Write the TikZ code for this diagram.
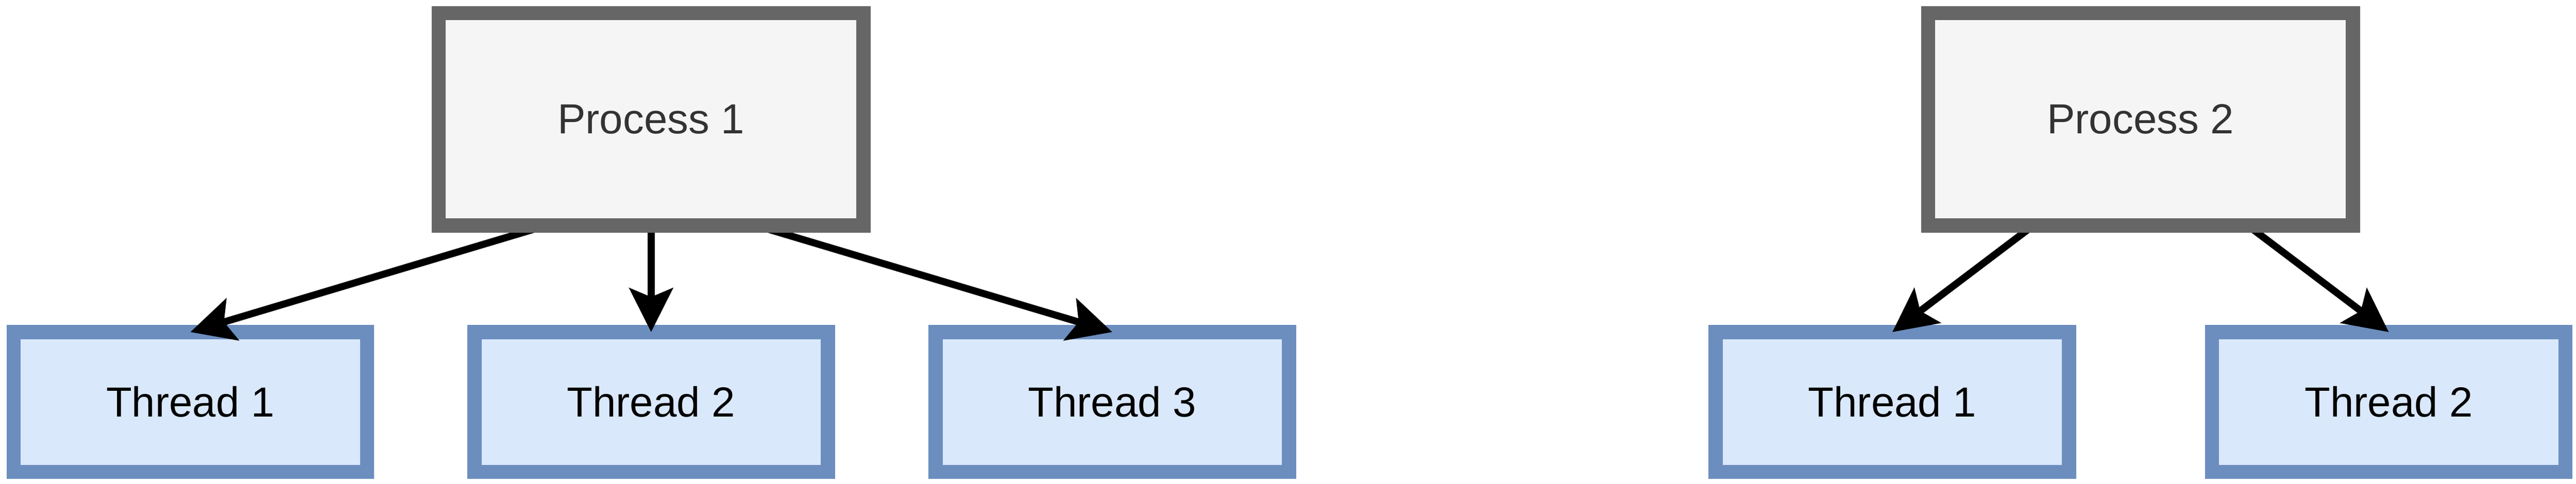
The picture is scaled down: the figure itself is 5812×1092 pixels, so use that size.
\documentclass[tikz,border=0pt]{standalone}
\usepackage{fontspec}
\setmainfont{Liberation Sans}
\usetikzlibrary{arrows.meta}
\definecolor{procfill}{HTML}{F5F5F5}
\definecolor{procdraw}{HTML}{666666}
\definecolor{proctext}{HTML}{333333}
\definecolor{thrfill}{HTML}{DAE8FC}
\definecolor{thrdraw}{HTML}{6C8EBF}
\pgfdeclarelayer{threadlayer}
\pgfdeclarelayer{edgelayer}
\pgfsetlayers{threadlayer,edgelayer,main}
\begin{document}
\begin{tikzpicture}[x=0.01cm,y=-0.01cm,
  procbox/.style={draw=procdraw, fill=procfill, line width=0.32cm,
    minimum width=9.58cm, minimum height=4.79cm, inner sep=0pt, outer sep=0pt,
    text=proctext, font=\fontsize{27}{32}\selectfont},
  thrbox/.style={draw=thrdraw, fill=thrfill, line width=0.32cm,
    minimum width=7.97cm, minimum height=3.155cm, inner sep=0pt, outer sep=0pt,
    text=black, font=\fontsize{27}{32}\selectfont},
  conn/.style={draw=black, line width=0.16cm,
    -{Stealth[length=0.99cm, width=0.98cm, inset=0.2cm]}}]
\useasboundingbox (0,0) rectangle (5812,1092);
\node[procbox] (p1) at (1469,269.5) {Process 1};
\node[procbox] (p2) at (4829.5,269.5) {Process 2};
\begin{pgfonlayer}{threadlayer}
\node[thrbox] (t1) at (429.5,907.5) {Thread 1};
\node[thrbox] (t2) at (1469,907.5) {Thread 2};
\node[thrbox] (t3) at (2509.5,907.5) {Thread 3};
\node[thrbox] (u1) at (4269.5,907.5) {Thread 1};
\node[thrbox] (u2) at (5389.5,907.5) {Thread 2};
\end{pgfonlayer}
\begin{pgfonlayer}{edgelayer}
\draw[conn] ([xshift=-2.365cm]p1.south) -- (t1.north);
\draw[conn] (p1.south) -- (t2.north);
\draw[conn] ([xshift=2.365cm]p1.south) -- (t3.north);
\draw[conn] ([xshift=-2.42cm]p2.south) -- (u1.north);
\draw[conn] ([xshift=2.42cm]p2.south) -- (u2.north);
\end{pgfonlayer}
\end{tikzpicture}
\end{document}
